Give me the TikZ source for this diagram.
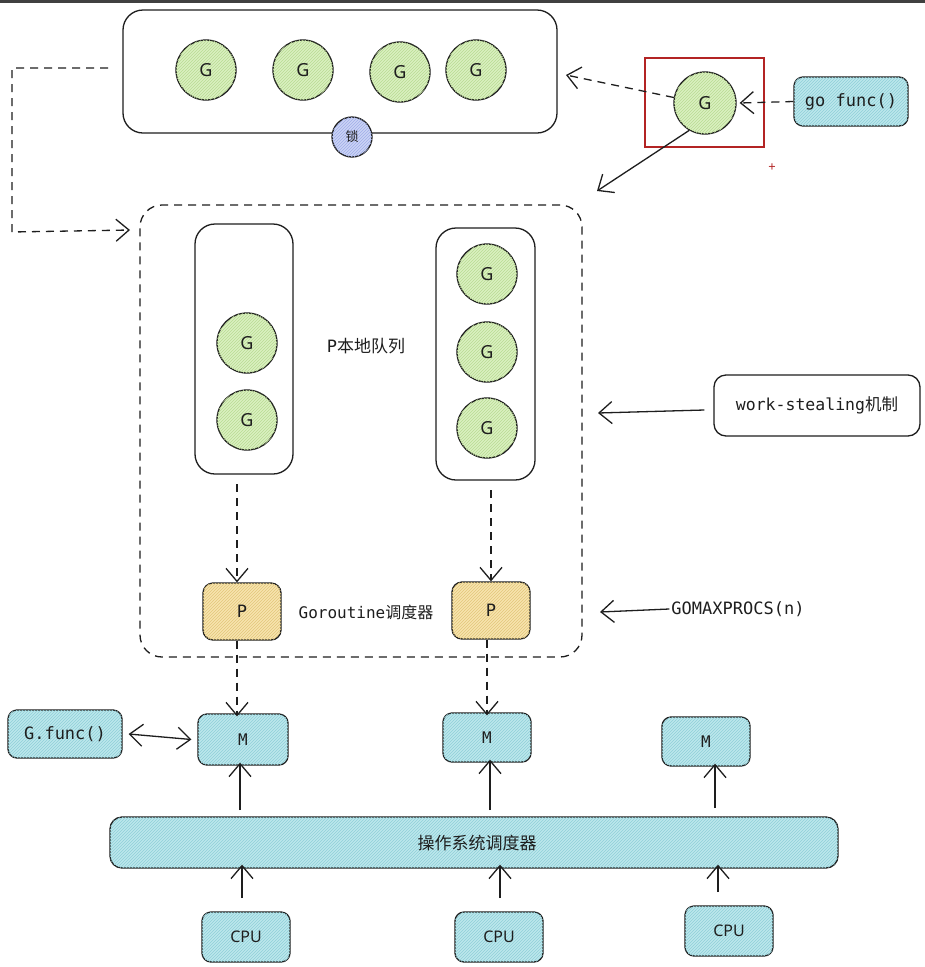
\documentclass[tikz,border=0pt]{standalone}
\usepackage{fontspec}
\setmainfont{DejaVu Sans Mono}
\newfontfamily\cjk{Noto Sans CJK SC}
\newfontfamily\sansf{Noto Sans}
\usetikzlibrary{arrows.meta,patterns}
\definecolor{ink}{HTML}{1E1E1E}
\definecolor{gfill}{HTML}{DAF0C0}
\definecolor{gline}{HTML}{B9DB93}
\definecolor{pfill}{HTML}{F7E4AE}
\definecolor{pline}{HTML}{E2C67A}
\definecolor{cfill}{HTML}{BCE7EC}
\definecolor{cline}{HTML}{8FCFD8}
\definecolor{lfill}{HTML}{CBD4F6}
\definecolor{lline}{HTML}{A0AEE8}
\definecolor{redbox}{HTML}{B32424}
\tikzset{
  x=1pt,y=-1pt,
  every node/.style={text=ink},
  gnode/.style={circle,draw=ink,line width=1.3pt,fill=gfill,postaction={pattern=north east lines,pattern color=gline},minimum size=60pt,inner sep=0pt,font=\sansf\fontsize{18}{18}\selectfont},
  colbox/.style={draw=ink,line width=1.3pt,rounded corners=20pt},
  cbox/.style={draw=ink,line width=1.3pt,fill=cfill,postaction={pattern=north east lines,pattern color=cline},rounded corners=9pt,inner sep=0pt},
  pbox/.style={draw=ink,line width=1.3pt,fill=pfill,postaction={pattern=north east lines,pattern color=pline},rounded corners=10pt,inner sep=0pt},
  tip/.style={-{Straight Barb[length=13pt,width=22pt,line width=1.3pt]}},
  conn/.style={draw=ink,line width=1.3pt,tip},
  dconn/.style={conn,dash pattern=on 8pt off 6pt},
}
\begin{document}
\begin{tikzpicture}
\useasboundingbox (0,0) rectangle (925,967);
\fill[white] (0,0) rectangle (925,967);
\fill[black!75] (0,0) rectangle (925,3);
% top global queue
\node[colbox,minimum width=434pt,minimum height=123pt] (gq) at (340,71.5) {};
\node[gnode] (g1) at (206,70) {G};
\node[gnode] (g2) at (303,70) {G};
\node[gnode] (g3) at (400,72) {G};
\node[gnode] (g4) at (476,70) {G};
\node[circle,draw=ink,line width=1.3pt,fill=lfill,postaction={pattern=north east lines,pattern color=lline},minimum size=40pt,inner sep=0pt,font=\cjk\fontsize{13}{13}\selectfont] (lock) at (352,137) {锁};
% red box with new G
\node[draw=redbox,line width=1.3pt,minimum width=119pt,minimum height=89pt] (red) at (704.5,102.5) {};
\node[gnode,minimum size=62pt] (gn) at (705,103) {G};
\node[cbox,minimum width=114pt,minimum height=49pt,font=\fontsize{17}{17}\selectfont] (gof) at (851,101.5) {go func()};
\node[text=redbox,font=\sansf\bfseries\fontsize{13}{13}\selectfont,inner sep=0pt] (plus) at (772,168) {+};
\coordinate (gqr) at (566,75);
\draw[dconn] (gn.170) -- (gqr);
\draw[dconn] (gof.west) -- ([xshift=3pt]gn.east);
\coordinate (pin) at (597,191);
\draw[conn] (gn.240) -- (pin);
% left dashed connector
\coordinate (l0) at (108,68);
\coordinate (l1) at (12,68);
\coordinate (l2) at (12,232);
\coordinate (l3) at (130,230);
\draw[dconn] (l0) -- (l1) -- (l2) -- (l3);
% P region
\node[draw=ink,line width=1.3pt,dash pattern=on 8pt off 6pt,rounded corners=22pt,minimum width=442pt,minimum height=452pt] (preg) at (361,431) {};
\node[colbox,minimum width=98pt,minimum height=250pt] (lcol) at (244,349) {};
\node[gnode] (lg1) at (247,343) {G};
\node[gnode] (lg2) at (247,420) {G};
\node[colbox,minimum width=99pt,minimum height=252pt] (rcol) at (485.5,354) {};
\node[gnode] (rg1) at (487,274) {G};
\node[gnode] (rg2) at (487,352) {G};
\node[gnode] (rg3) at (487,428) {G};
\node[font=\fontsize{17}{17}\selectfont] (plq) at (366,346) {P{\cjk 本地队列}};
\node[pbox,minimum width=78pt,minimum height=57pt,font=\fontsize{17}{17}\selectfont] (p1) at (242,611.5) {P};
\node[pbox,minimum width=78pt,minimum height=57pt,font=\fontsize{17}{17}\selectfont] (p2) at (491,610.5) {P};
\node[font=\fontsize{16}{16}\selectfont] (gs) at (366,612) {Goroutine{\cjk 调度器}};
\coordinate (lc0) at (237,484);
\coordinate (rc0) at (491,490);
\draw[dconn] (lc0) -- (p1.north -| lc0);
\draw[dconn] (rc0) -- (p2.north -| rc0);
% work stealing and gomaxprocs
\node[draw=ink,line width=1.3pt,fill=white,rounded corners=12pt,minimum width=206pt,minimum height=61pt,font=\fontsize{16.5}{16.5}\selectfont] (ws) at (817,405.5) {work-stealing{\cjk 机制}};
\coordinate (wsin) at (598,413);
\draw[conn] ([xshift=-9pt]ws.west |- 0,410) -- (wsin);
\node[font=\fontsize{17}{17}\selectfont,inner sep=2pt] (gmp) at (738,609) {GOMAXPROCS(n)};
\coordinate (gmpin) at (600,612);
\draw[conn] (gmp.west) -- (gmpin);
% M
\node[cbox,minimum width=90pt,minimum height=51pt,font=\fontsize{16}{16}\selectfont] (m1) at (243,739.5) {M};
\node[cbox,minimum width=88pt,minimum height=49pt,font=\fontsize{16}{16}\selectfont] (m2) at (487,737.5) {M};
\node[cbox,minimum width=88pt,minimum height=49pt,font=\fontsize{16}{16}\selectfont] (m3) at (706,741.5) {M};
\node[cbox,minimum width=114pt,minimum height=48pt,font=\fontsize{17}{17}\selectfont] (gf) at (65,734) {G.func()};
\draw[dconn] (p1.south -| 237,0) -- ([yshift=-3pt]m1.north -| 237,0);
\draw[dconn] (p2.south -| 487,0) -- ([yshift=-3pt]m2.north -| 487,0);
\draw[draw=ink,line width=1.3pt,{Straight Barb[length=13pt,width=22pt,line width=1.3pt]}-{Straight Barb[length=13pt,width=22pt,line width=1.3pt]}] ([xshift=6pt]gf.east) -- ([xshift=-6pt]m1.west);
% OS scheduler
\node[cbox,rounded corners=12pt,minimum width=728pt,minimum height=51pt] (os) at (474,842.5) {};
\node[font=\cjk\fontsize{17}{17}\selectfont] (ost) at (477,843) {操作系统调度器};
\coordinate (a1) at (240,810);
\coordinate (a2) at (490,810);
\coordinate (a3) at (715,808);
% CPUs
\node[cbox,minimum width=88pt,minimum height=50pt,font=\sansf\fontsize{16}{16}\selectfont] (c1) at (246,937) {CPU};
\node[cbox,minimum width=88pt,minimum height=50pt,font=\sansf\fontsize{16}{16}\selectfont] (c2) at (499,937) {CPU};
\node[cbox,minimum width=88pt,minimum height=50pt,font=\sansf\fontsize{16}{16}\selectfont] (c3) at (729,931) {CPU};
\coordinate (b1) at (242,898);
\coordinate (b2) at (500,898);
\coordinate (b3) at (718,892);
\draw[conn] (a1) -- ([yshift=3pt]m1.south -| a1);
\draw[conn] (a2) -- ([yshift=3pt]m2.south -| a2);
\draw[conn] (a3) -- ([yshift=3pt]m3.south -| a3);
\draw[conn] (b1) -- ([yshift=4pt]os.south -| b1);
\draw[conn] (b2) -- ([yshift=4pt]os.south -| b2);
\draw[conn] (b3) -- ([yshift=4pt]os.south -| b3);
\end{tikzpicture}
\end{document}
